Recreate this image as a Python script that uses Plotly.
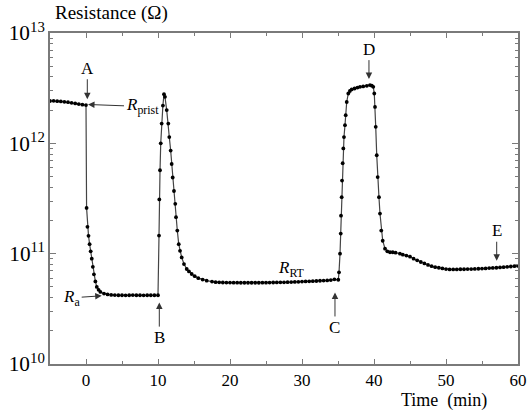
import math
import plotly.graph_objects as go

time_min = [
    -5.0, -4.5, -4.0, -3.5, -3.0, -2.5, -2.0, -1.5, -1.0, -0.5, 0.0,
    0.08, 0.2, 0.35, 0.5, 0.65, 0.8, 0.95, 1.1, 1.3, 1.5, 1.75, 2.0, 2.5, 3.0, 3.5,
    4.0, 4.5, 5.0, 5.5, 6.0, 6.5, 7.0, 7.5, 8.0, 8.5, 9.0, 9.5, 10.0,
    10.14, 10.18, 10.28, 10.38, 10.51, 10.68, 10.83,
    10.97, 11.21, 11.43, 11.57, 11.76, 11.9, 12.04, 12.22, 12.4, 12.5, 12.68, 12.88,
    13.06, 13.29, 13.61, 13.99, 14.3, 14.68, 15.1, 15.6, 16.2, 16.76, 17.5, 18.0, 18.5,
    19.0, 19.5, 20.0, 20.5, 21.0, 21.5, 22.0, 22.5, 23.0, 23.5, 24.0, 24.5, 25.0, 25.5,
    26.0, 26.5, 27.0, 27.5, 28.0, 28.5, 29.0, 29.5, 30.0, 30.5, 31.0, 31.5, 32.0, 32.5,
    33.0, 33.5, 34.0, 34.5,
    35.04, 35.14, 35.28, 35.38, 35.42, 35.51, 35.56, 35.65, 35.74, 35.83, 35.97, 36.07,
    36.21, 36.43, 36.65, 36.9, 37.3, 37.7, 38.06, 38.5, 39.0, 39.44, 39.7, 39.9,
    40.04, 40.14, 40.24, 40.38, 40.51, 40.69, 40.83, 41.01, 41.21, 41.53, 41.85,
    42.22, 42.6, 43.0, 43.6, 44.0, 44.5, 45.0, 45.5, 46.0, 46.5, 47.0, 47.5, 48.0,
    48.5, 49.0, 49.5, 50.0, 50.5, 51.0, 51.5, 52.0, 52.5, 53.0, 53.5, 54.0, 54.5,
    55.0, 55.5, 56.0, 56.5, 57.0, 57.5, 58.0, 58.5, 59.0, 59.5, 60.0,
]

resistance_ohm = [
    2.42e12, 2.43e12, 2.41e12, 2.40e12, 2.38e12, 2.36e12, 2.33e12, 2.30e12, 2.27e12, 2.24e12, 2.22e12,
    2.6e11, 1.75e11, 1.45e11, 1.22e11, 1.05e11, 9.0e10, 7.6e10, 6.5e10, 5.6e10, 5.0e10, 4.7e10, 4.5e10, 4.35e10, 4.27e10, 4.23e10,
    4.21e10, 4.2e10, 4.2e10, 4.19e10, 4.2e10, 4.21e10, 4.2e10, 4.2e10, 4.19e10, 4.2e10, 4.2e10, 4.2e10, 4.2e10,
    1.46e11, 3.1e11, 5.7e11, 1.0e12, 1.51e12, 2.2e12, 2.79e12,
    2.64e12, 2.0e12, 1.51e12, 1.14e12, 8.6e11, 6.5e11, 4.9e11, 3.7e11, 2.83e11, 2.14e11, 1.62e11, 1.22e11,
    1.06e11, 9.25e10, 8.05e10, 7.26e10, 6.9e10, 6.54e10, 6.25e10, 6.0e10, 5.82e10, 5.69e10, 5.58e10, 5.52e10, 5.5e10,
    5.48e10, 5.47e10, 5.47e10, 5.46e10, 5.46e10, 5.45e10, 5.45e10, 5.45e10, 5.45e10, 5.45e10, 5.45e10, 5.46e10, 5.46e10, 5.47e10,
    5.48e10, 5.49e10, 5.5e10, 5.5e10, 5.52e10, 5.53e10, 5.55e10, 5.56e10, 5.58e10, 5.6e10, 5.61e10, 5.63e10, 5.65e10, 5.68e10,
    5.7e10, 5.72e10, 5.76e10, 5.85e10,
    5.8e10, 6.77e10, 1.0e11, 1.52e11, 2.21e11, 3.25e11, 4.6e11, 6.6e11, 9.0e11, 1.14e12, 1.46e12, 1.8e12,
    2.37e12, 2.83e12, 2.98e12, 3.08e12, 3.14e12, 3.2e12, 3.25e12, 3.28e12, 3.32e12, 3.37e12, 3.33e12, 3.25e12,
    2.83e12, 2.14e12, 1.41e12, 7.8e11, 4.95e11, 3.25e11, 2.31e11, 1.62e11, 1.31e11, 1.11e11, 1.05e11,
    1.03e11, 1.03e11, 1.02e11, 1.0e11, 9.8e10, 9.6e10, 9.4e10, 9.0e10, 8.7e10, 8.4e10, 8.15e10, 7.9e10, 7.7e10,
    7.55e10, 7.45e10, 7.35e10, 7.25e10, 7.2e10, 7.2e10, 7.2e10, 7.22e10, 7.22e10, 7.25e10, 7.25e10, 7.28e10, 7.3e10,
    7.33e10, 7.35e10, 7.4e10, 7.42e10, 7.45e10, 7.5e10, 7.55e10, 7.6e10, 7.65e10, 7.7e10, 7.75e10,
]

x_ticks = [0, 10, 20, 30, 40, 50, 60]

# labelled markers: (text, time, resistance, ax, ay)
markers = [
    ("A", 0.18, 2.51e12, 0, -31),
    ("B", 10.18, 3.6e10, 0, 35),
    ("C", 34.58, 4.45e10, 0, 35),
    ("D", 39.3, 3.82e12, 0, -30),
    ("E", 57.04, 8.63e10, 0, -30),
    ("<i>R</i><sub>prist</sub>", 0.28, 2.25e12, 54, 2),
    ("<i>R</i><sub>a</sub>", 2.18, 4.15e10, -30, 2),
]
rrt_label = ("<i>R</i><sub>RT</sub>", 28.6, 7.3e10)

SERIF = "Liberation Serif, Times New Roman, serif"
AXC = "#7a7a7a"

fig = go.Figure()
fig.add_trace(go.Scatter(
    x=time_min, y=resistance_ohm, mode="lines+markers",
    line=dict(color="#444444", width=1.2),
    marker=dict(color="black", size=3.8),
    showlegend=False,
))

for text, t, r, ax, ay in markers:
    fig.add_annotation(
        x=t, y=math.log10(r), xref="x", yref="y", text=text, showarrow=True,
        ax=ax, ay=ay, axref="pixel", ayref="pixel",
        arrowhead=2, arrowsize=1.3, arrowwidth=1, arrowcolor="#333333",
        font=dict(family=SERIF, size=17, color="black"),
    )

fig.add_annotation(x=rrt_label[1], y=math.log10(rrt_label[2]), xref="x", yref="y",
                   text=rrt_label[0], showarrow=False,
                   font=dict(family=SERIF, size=17, color="black"))

fig.add_annotation(x=0.0, y=1, xref="paper", yref="paper", xanchor="left",
                   yanchor="middle", yshift=20, xshift=3,
                   text="Resistance (Ω)", showarrow=False,
                   font=dict(family=SERIF, size=19, color="black"))
fig.add_annotation(x=0.842, y=0, xref="paper", yref="paper", xanchor="center",
                   yanchor="middle", yshift=-36,
                   text="Time  (min)", showarrow=False,
                   font=dict(family=SERIF, size=18, color="black"))

fig.update_xaxes(
    range=[-5, 60], tickvals=x_ticks, ticktext=[str(v) for v in x_ticks],
    ticks="inside", ticklen=5, tickcolor=AXC, tickwidth=1,
    showline=True, linecolor=AXC, linewidth=1.5, mirror="ticks",
    showgrid=False, zeroline=False, automargin=False,
    minor=dict(ticks="inside", ticklen=3, dtick=5, tickcolor=AXC, showgrid=False),
    tickfont=dict(family=SERIF, size=17, color="black"),
)
fig.update_yaxes(
    type="log", range=[10, 13], dtick=1, exponentformat="power", showexponent="all",
    ticks="inside", ticklen=6, tickcolor=AXC, tickwidth=1,
    showline=True, linecolor=AXC, linewidth=1.5, mirror="ticks",
    showgrid=False, zeroline=False, automargin=False,
    minor=dict(ticks="inside", ticklen=3, dtick="D1", tickcolor=AXC, showgrid=False),
    tickfont=dict(family=SERIF, size=17, color="black"),
)

fig.update_layout(
    width=531, height=410,
    margin=dict(l=50, r=13, t=33, b=46),
    plot_bgcolor="white", paper_bgcolor="white",
)

fig.write_html("out.html", config={"displayModeBar": False},
               post_script="document.body.style.margin='0';document.body.style.overflow='hidden';")
